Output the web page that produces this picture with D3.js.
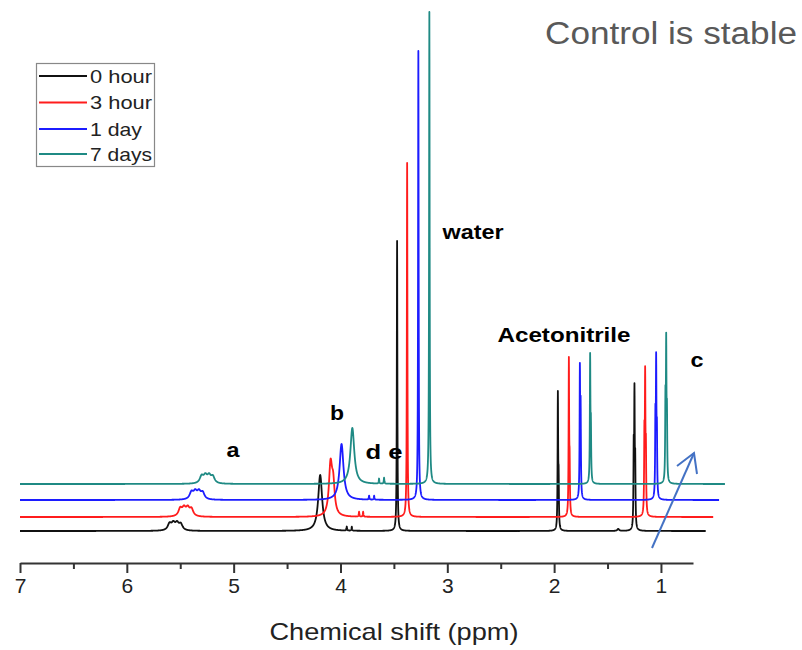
<!DOCTYPE html>
<html>
<head>
<meta charset="utf-8">
<script src="https://cdnjs.cloudflare.com/ajax/libs/d3/7.8.5/d3.min.js"></script>
<style>
    body { margin: 0; background: white; }
    svg { display: block; font-family: "Liberation Sans", Arial, sans-serif; }
</style>
</head>
<body>
<main></main>
<script>
// Data: peak tables, [ppm, height, half width]
let seriesNames = ['0 hour', '3 hour', '1 day', '7 days']
let seriesColors = ['#111111', '#ff1c1c', '#1c1cff', '#1f8a84']
let seriesOffsets = [0, 14, 31, 47]
let seriesEnds = [0.58, 0.51, 0.455, 0.40]

let peaks0 = [
    [5.600, 6.5, 0.02], [5.565, 6.5, 0.02], [5.530, 6.5, 0.02], [5.495, 6, 0.02],
    [4.190, 56, 0.022],
    [3.941, 4, 0.003], [3.894, 4, 0.003],
    [3.470, 290, 0.003],
    [1.965, 133, 0.003], [1.958, 45, 0.003],
    [1.400, 2, 0.01],
    [1.255, 74, 0.003], [1.248, 127, 0.003], [1.241, 60, 0.003]
]
let peaks1 = [
    [5.500, 7.5, 0.02], [5.465, 7.5, 0.02], [5.430, 7.5, 0.02], [5.395, 7, 0.02],
    [4.093, 50, 0.018], [4.068, 28, 0.016],
    [3.826, 5, 0.003], [3.788, 5, 0.003],
    [3.376, 354, 0.003],
    [1.862, 153, 0.003], [1.855, 45, 0.003],
    [1.155, 74, 0.003], [1.148, 130, 0.003], [1.141, 60, 0.003]
]
let peaks2 = [
    [5.395, 7, 0.02], [5.360, 7, 0.02], [5.325, 7, 0.02], [5.290, 6.5, 0.02],
    [3.990, 56, 0.022],
    [3.732, 4, 0.003], [3.685, 4, 0.003],
    [3.271, 449, 0.003],
    [1.759, 124, 0.003], [1.752, 85, 0.003],
    [1.052, 74, 0.003], [1.045, 127, 0.003], [1.038, 60, 0.003]
]
let peaks3 = [
    [5.300, 7, 0.02], [5.265, 7, 0.02], [5.230, 7, 0.02], [5.195, 6.5, 0.02],
    [3.889, 56, 0.022],
    [3.639, 5, 0.003], [3.592, 6, 0.003],
    [3.168, 472, 0.003],
    [1.663, 123, 0.003], [1.656, 52, 0.003],
    [0.958, 76, 0.003], [0.951, 130, 0.003], [0.944, 62, 0.003]
]
let allPeaks = [peaks0, peaks1, peaks2, peaks3]

let xTicks = [7, 6, 5, 4, 3, 2, 1]
let xMinorTicks = [6.5, 5.5, 4.5, 3.5, 2.5, 1.5]

let peakLabels = [
    { text: 'a', x: 233, y: 457, len: 13 },
    { text: 'b', x: 337, y: 420, len: 14 },
    { text: 'd e', x: 384, y: 459, len: 37 },
    { text: 'water', x: 473, y: 239, len: 61 },
    { text: 'Acetonitrile', x: 564, y: 342, len: 133 },
    { text: 'c', x: 697, y: 367, len: 13 }
]

let svg = d3.select('main')
    .append('svg')
    .attr('width', 802)
    .attr('height', 650)

let x = d3.scaleLinear()
    .domain([7, 0.7])
    .range([20, 693])

let y = d3.scaleLinear()
    .domain([0, 519])
    .range([531, 12])

// Build each spectrum from its peak table
function spectrum(peaks, end) {
    let grid = d3.range(7, end, -0.001)
    peaks.forEach(p => grid.push(p[0]))
    grid.sort((a, b) => b - a)
    return grid.map(ppm => {
        let v = 0
        peaks.forEach(p => {
            let d = ppm - p[0]
            v += p[1] * p[2] * p[2] / (p[2] * p[2] + d * d)
        })
        return [ppm, v]
    })
}

// Traces
allPeaks.forEach((peaks, i) => {
    let line = d3.line()
        .x(d => x(d[0]))
        .y(d => y(d[1] + seriesOffsets[i]))
    svg.append('path')
        .datum(spectrum(peaks, seriesEnds[i]))
        .attr('d', line)
        .style('fill', 'none')
        .style('stroke', seriesColors[i])
        .style('stroke-width', 1.8)
        .style('stroke-linejoin', 'round')
})

// X axis
let xAxis = svg.append('g')
    .attr('transform', 'translate(0,563)')
    .call(d3.axisBottom(x)
        .tickValues(xTicks)
        .tickFormat(d3.format('d'))
        .tickSize(10)
        .tickSizeOuter(0)
        .tickPadding(5))
xAxis.select('.domain')
    .style('stroke', '#333')
    .style('stroke-width', 2)
xAxis.selectAll('.tick line')
    .style('stroke', '#333')
    .style('stroke-width', 2)
xAxis.selectAll('.tick text')
    .style('font-family', '"Liberation Sans", Arial, sans-serif')
    .style('font-size', '21px')
    .style('fill', '#222')

svg.append('g')
    .attr('transform', 'translate(0,563)')
    .call(d3.axisBottom(x)
        .tickValues(xMinorTicks)
        .tickFormat('')
        .tickSize(6)
        .tickSizeOuter(0))
    .call(g => g.select('.domain').remove())
    .selectAll('.tick line')
    .style('stroke', '#333')
    .style('stroke-width', 2)

svg.append('text')
    .attr('x', 394)
    .attr('y', 640)
    .attr('text-anchor', 'middle')
    .attr('textLength', 249)
    .attr('lengthAdjust', 'spacingAndGlyphs')
    .style('font-size', '24px')
    .style('fill', '#222')
    .text('Chemical shift (ppm)')

// Peak labels
peakLabels.forEach(l => {
    svg.append('text')
        .attr('x', l.x)
        .attr('y', l.y)
        .attr('text-anchor', 'middle')
        .attr('textLength', l.len)
        .attr('lengthAdjust', 'spacingAndGlyphs')
        .style('font-size', '21px')
        .style('font-weight', 'bold')
        .style('fill', '#000')
        .text(l.text)
})

// Arrow
let arrowColor = '#4472c4'
svg.append('line')
    .attr('x1', 652).attr('y1', 548)
    .attr('x2', 694).attr('y2', 453)
    .style('stroke', arrowColor)
    .style('stroke-width', 2)
svg.append('polyline')
    .attr('points', '677,466 694,453 697,474')
    .style('fill', 'none')
    .style('stroke', arrowColor)
    .style('stroke-width', 2)

// Legend
svg.append('rect')
    .attr('x', 36.5)
    .attr('y', 63.5)
    .attr('width', 118)
    .attr('height', 103)
    .style('fill', 'white')
    .style('stroke', '#888')
    .style('stroke-width', 1.2)

let legendRows = [76, 102.5, 129, 154]
let legendLens = [62, 62, 52, 62]
seriesNames.forEach((name, i) => {
    svg.append('line')
        .attr('x1', 39).attr('x2', 87)
        .attr('y1', legendRows[i]).attr('y2', legendRows[i])
        .style('stroke', seriesColors[i])
        .style('stroke-width', 2)
    svg.append('text')
        .attr('x', 90)
        .attr('y', legendRows[i] + 6.5)
        .attr('textLength', legendLens[i])
        .attr('lengthAdjust', 'spacingAndGlyphs')
        .style('font-size', '19px')
        .style('fill', '#222')
        .text(name)
})

// Title
svg.append('text')
    .attr('x', 545)
    .attr('y', 44)
    .attr('textLength', 252)
    .attr('lengthAdjust', 'spacingAndGlyphs')
    .style('font-size', '31px')
    .style('fill', '#595959')
    .text('Control is stable')
</script>
</body>
</html>
